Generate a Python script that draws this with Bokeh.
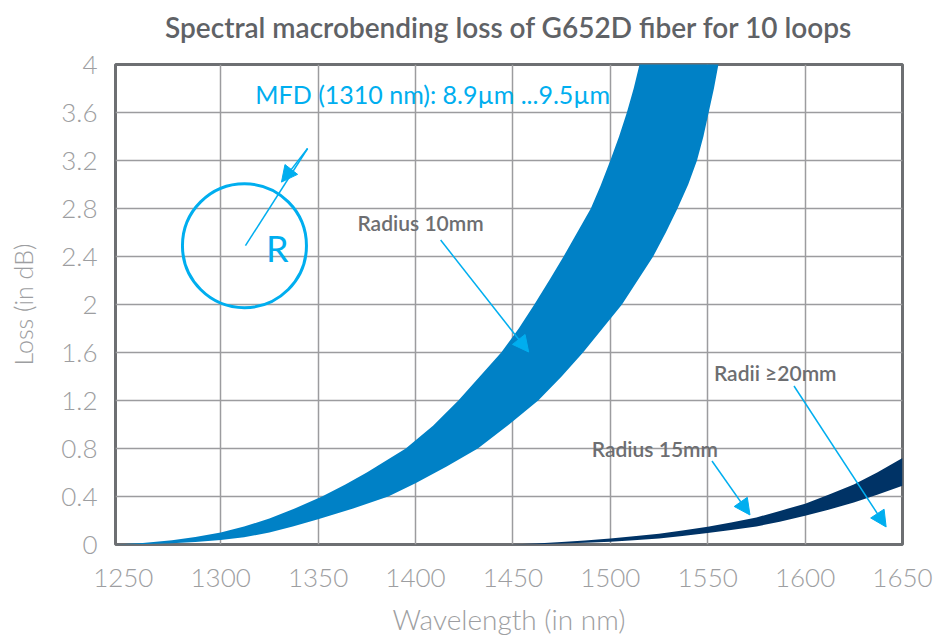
from bokeh.plotting import figure
from bokeh.models import Range1d, FixedTicker, Label, Arrow, NormalHead
from bokeh.embed import file_html
from bokeh.resources import INLINE

# ---- data ----
title_text = "Spectral macrobending loss of G652D fiber for 10 loops"
x_ticks = [1250, 1300, 1350, 1400, 1450, 1500, 1550, 1600, 1650]
y_ticks = [0, 0.4, 0.8, 1.2, 1.6, 2.0, 2.4, 2.8, 3.2, 3.6, 4.0]
y_tick_labels = ["0", "0.4", "0.8", "1.2", "1.6", "2", "2.4", "2.8", "3.2", "3.6", "4"]

# Radius 10mm band: upper (short-wavelength) edge and lower edge
r10_upper_wl = [1246, 1260, 1275, 1287, 1300, 1312, 1325, 1338, 1352, 1364, 1375, 1385, 1395,
                1409, 1422, 1433, 1444, 1453, 1461, 1469, 1476, 1483, 1490, 1495, 1500,
                1504.5, 1508.5, 1512, 1515, 1518]
r10_upper_loss = [0, 0.012, 0.035, 0.063, 0.10, 0.15, 0.216, 0.30, 0.40, 0.50, 0.60, 0.70, 0.80,
                  0.99, 1.2, 1.4, 1.6, 1.8, 2.0, 2.21, 2.4, 2.6, 2.8, 2.99, 3.2,
                  3.4, 3.6, 3.8, 4.0, 4.2]
r10_lower_wl = [1246, 1262, 1275, 1287, 1300, 1312, 1325, 1337, 1350, 1368, 1386, 1400, 1416,
                1432, 1448, 1463, 1475, 1486, 1496, 1506, 1514, 1522, 1528.5, 1534.5, 1540,
                1544.5, 1547.8, 1550.5, 1553.2, 1555.5, 1558]
r10_lower_loss = [0, 0.004, 0.01, 0.02, 0.037, 0.06, 0.10, 0.15, 0.21, 0.30, 0.40, 0.51, 0.65,
                  0.8, 1.0, 1.2, 1.4, 1.6, 1.8, 2.0, 2.2, 2.4, 2.6, 2.8, 3.0,
                  3.2, 3.4, 3.6, 3.8, 4.0, 4.2]

# Radius 15mm band
r15_wl = [1448, 1462, 1475, 1487, 1500, 1512, 1525, 1537, 1550, 1562, 1575, 1587, 1600,
          1612, 1625, 1637, 1650]
r15_upper_loss = [0, 0.008, 0.02, 0.033, 0.05, 0.068, 0.09, 0.116, 0.148, 0.183, 0.225, 0.28,
                  0.34, 0.415, 0.50, 0.60, 0.72]
r15_lower_loss = [0, 0.003, 0.008, 0.014, 0.023, 0.035, 0.05, 0.07, 0.095, 0.12, 0.15, 0.19,
                  0.24, 0.29, 0.35, 0.415, 0.49]

# ---- styles ----
BLUE = "#0081c6"
NAVY = "#003366"
CYAN = "#00aeef"
GRID = "#9c9c9f"
FRAME = "#6d6f72"
TICK = "#9d9ea1"
ANNO = "#6d6e71"
SEMI = "Lato Semibold"
FONT = "Lato"
LIGHT = "Lato Light"

p = figure(width=933, height=635, output_backend="svg", toolbar_location=None,
           x_range=Range1d(1246, 1650), y_range=Range1d(0, 4),
           min_border_left=115, min_border_right=31, min_border_top=64, min_border_bottom=91,
           frame_width=787, frame_height=480)

p.title.text = title_text
p.title.align = "center"
p.title.vertical_align = "bottom"
p.title.text_font = SEMI
p.title.text_font_style = "normal"
p.title.text_font_size = "28px"
p.title.text_color = "#5f6266"
p.title.standoff = 0
p.title.padding = dict(left=0, right=0, top=0, bottom=21)

p.outline_line_color = FRAME
p.outline_line_width = 3

p.xaxis.ticker = FixedTicker(ticks=x_ticks)
p.yaxis.ticker = FixedTicker(ticks=y_ticks)
p.yaxis.major_label_overrides = {t: l for t, l in zip(y_ticks, y_tick_labels)}
p.xgrid.ticker = FixedTicker(ticks=x_ticks[1:-1])
p.ygrid.ticker = FixedTicker(ticks=y_ticks[1:-1])
for g in (p.xgrid, p.ygrid):
    g.grid_line_color = GRID
    g.grid_line_width = 1.5

for ax in (p.xaxis, p.yaxis):
    ax.axis_line_color = None
    ax.major_tick_line_color = None
    ax.minor_tick_line_color = None
    ax.major_label_text_font = LIGHT
    ax.major_label_text_font_size = "26px"
    ax.major_label_text_color = TICK
    ax.axis_label_text_font = LIGHT
    ax.axis_label_text_font_style = "normal"
    ax.axis_label_text_color = TICK

p.xaxis.axis_label = "Wavelength (in nm)"
p.xaxis.axis_label_text_font_size = "28px"
p.xaxis.major_label_standoff = 18
p.xaxis.axis_label_standoff = 12
p.yaxis.axis_label = "Loss (in dB)"
p.yaxis.axis_label_text_font_size = "25px"
p.yaxis.major_label_text_align = "center"
p.yaxis.major_label_standoff = 12
p.yaxis.axis_label_standoff = 20

# bands
p.patch(r10_upper_wl + r10_lower_wl[::-1], r10_upper_loss + r10_lower_loss[::-1],
        fill_color=BLUE, line_color=None)
p.patch(r15_wl + r15_wl[::-1], r15_upper_loss + r15_lower_loss[::-1],
        fill_color=NAVY, line_color=None)

# circle with radius
p.circle(x=[1312.2], y=[2.49], radius=62, radius_units="screen",
         fill_color=None, line_color=CYAN, line_width=3)
p.segment(x0=[1344.6], y0=[3.30], x1=[1312.7], y1=[2.49], line_color=CYAN, line_width=1.5)
p.add_layout(Arrow(end=NormalHead(size=16, fill_color=CYAN, line_color=CYAN),
                   x_start=1344.6, y_start=3.30, x_end=1331.2, y_end=3.02,
                   line_color=CYAN, line_width=1.5))

p.add_layout(Label(x=1329.1, y=2.47, text="R", text_font=FONT, text_font_size="36px",
                   text_color=CYAN, text_align="center", text_baseline="middle"))
p.add_layout(Label(x=1317.8, y=3.754, text="MFD (1310 nm): 8.9µm ...9.5µm", text_font=FONT,
                   text_font_size="25px", text_color=CYAN, text_align="left",
                   text_baseline="middle"))

# annotations
for (tx, ty, txt) in [(1370.2, 2.68, "Radius 10mm"), (1490.5, 0.796, "Radius 15mm"),
                      (1553.2, 1.43, "Radii ≥20mm")]:
    p.add_layout(Label(x=tx, y=ty, text=txt, text_font=SEMI, text_font_style="normal",
                       text_font_size="21px", text_color=ANNO, text_align="left",
                       text_baseline="middle"))

for (x0, y0, x1, y1) in [(1412.9, 2.537, 1458.1, 1.604), (1552.2, 0.696, 1571.7, 0.246),
                         (1594.3, 1.321, 1641.6, 0.146)]:
    p.add_layout(Arrow(end=NormalHead(size=16, fill_color=CYAN, line_color=CYAN),
                       x_start=x0, y_start=y0, x_end=x1, y_end=y1,
                       line_color=CYAN, line_width=1.5))

open("out.html", "w").write(file_html(p, INLINE))
